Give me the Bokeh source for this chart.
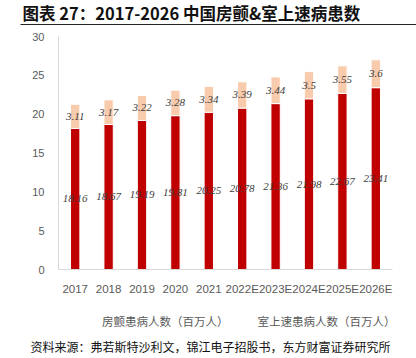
from bokeh.plotting import figure
from bokeh.layouts import column
from bokeh.models import (ColumnDataSource, Legend, LegendItem, Label, LabelSet,
                          FactorRange, Range1d, FixedTicker)
from bokeh.embed import file_html
from bokeh.resources import INLINE

years = ["2017", "2018", "2019", "2020", "2021", "2022E", "2023E", "2024E", "2025E", "2026E"]
af = [18.16, 18.67, 19.19, 19.81, 20.25, 20.78, 21.36, 21.98, 22.67, 23.41]
svt = [3.11, 3.17, 3.22, 3.28, 3.34, 3.39, 3.44, 3.5, 3.55, 3.6]
series_names = ["房颤患病人数（百万人）", "室上速患病人数（百万人）"]
y_ticks = [0, 5, 10, 15, 20, 25, 30]
title_text = "图表 27：2017-2026 中国房颤&室上速病患数"
source_text = "资料来源：弗若斯特沙利文，锦江电子招股书，东方财富证券研究所"

RED = "#C00000"
PEACH = "#F8CBAD"
GRAY = "#595959"
W = 416


def strip(h, rule_below=False, left=0, bottom=0):
    """A plain strip; optionally an axis line at its bottom acts as a horizontal rule."""
    f = figure(width=W, height=h, x_range=Range1d(0, W - left), y_range=Range1d(0, 1),
               x_axis_location="below" if rule_below else None, y_axis_location=None,
               output_backend="svg", toolbar_location=None,
               min_border=0, min_border_left=left, min_border_right=0,
               min_border_top=0, min_border_bottom=bottom)
    f.grid.visible = False
    f.outline_line_color = None
    f.title.visible = False
    f.frame_align = False
    if rule_below:
        ax = f.xaxis[0]
        ax.ticker = FixedTicker(ticks=[])
        ax.major_tick_line_color = None
        ax.minor_tick_line_color = None
        ax.major_tick_out = 0
        ax.major_tick_in = 0
        ax.minor_tick_out = 0
        ax.minor_tick_in = 0
        ax.major_label_standoff = 0
        ax.major_label_text_font_size = "0px"
        ax.axis_line_color = "#222222"
        ax.axis_line_width = 1.2
    return f


# ---- header: title + rule under it
HEAD_H = 26
head = strip(HEAD_H, rule_below=True, left=20, bottom=2)
head.add_layout(Label(x=2, y=0.47, text=title_text, text_font="Noto Sans CJK SC",
                      text_font_style="bold", text_font_size="16.5px",
                      text_color="#111111", text_baseline="middle"))

# ---- main chart
src = ColumnDataSource(dict(
    year=years, af=af, svt=svt,
    af_mid=[a / 2 for a in af],
    svt_mid=[a + s / 2 for a, s in zip(af, svt)],
    af_txt=[f"{v:g}" for v in af],
    svt_txt=[f"{v:g}" for v in svt],
))

p = figure(x_range=FactorRange(factors=years, range_padding=0), y_range=Range1d(0, 30),
           width=W, height=271, output_backend="svg", toolbar_location=None,
           min_border_left=58, min_border_right=24, min_border_top=10, min_border_bottom=23)
p.frame_align = False
p.title.visible = False
p.outline_line_color = None
p.xgrid.visible = False
p.ygrid.visible = False

rs = p.vbar_stack(["af", "svt"], x="year", width=0.28, color=[RED, PEACH],
                  line_color="white", line_width=1, source=src)

for ycol, tcol in (("af_mid", "af_txt"), ("svt_mid", "svt_txt")):
    p.add_layout(LabelSet(x="year", y=ycol, text=tcol, source=src,
                          text_align="center", text_baseline="middle",
                          text_font="Liberation Sans", text_font_style="italic",
                          text_font_size="11px", text_color="#404040"))

p.xaxis.axis_line_color = "#D9D9D9"
p.xaxis.major_tick_line_color = None
p.xaxis.minor_tick_line_color = None
p.xaxis.major_label_text_font = "Liberation Sans"
p.xaxis.major_label_text_font_size = "11.5px"
p.xaxis.major_label_text_color = GRAY
p.xaxis.major_label_standoff = 7

p.yaxis.ticker = FixedTicker(ticks=y_ticks)
p.yaxis.axis_line_color = "#D9D9D9"
p.yaxis.major_tick_line_color = None
p.yaxis.minor_tick_line_color = None
p.yaxis.major_label_text_font = "Liberation Sans"
p.yaxis.major_label_text_font_size = "11px"
p.yaxis.major_label_text_color = GRAY
p.yaxis.major_label_standoff = 8

# ---- legend strip with the rule below it
LEG_H = 37
leg = strip(LEG_H, rule_below=True, left=20, bottom=0)
d0 = leg.scatter(x=[], y=[], marker="square", color=RED)
d1 = leg.scatter(x=[], y=[], marker="square", color=PEACH)
legend = Legend(items=[LegendItem(label=series_names[0], renderers=[d0]),
                       LegendItem(label=series_names[1], renderers=[d1])],
                orientation="horizontal", location=(71, 5),
                glyph_width=6, glyph_height=6, label_standoff=5, spacing=18,
                label_text_font="Noto Sans CJK SC", label_text_font_size="11.5px",
                label_text_color=GRAY, border_line_color=None,
                background_fill_alpha=0, padding=2, margin=0)
leg.add_layout(legend, "center")

# ---- source strip
SRC_H = 24
foot = strip(SRC_H)
foot.add_layout(Label(x=30, y=0.5, text=source_text, text_font="Noto Sans CJK SC",
                      text_font_size="12px", text_color="#111111", text_baseline="middle"))

layout = column(head, p, leg, foot, spacing=0)
open("out.html", "w").write(file_html(layout, INLINE))
